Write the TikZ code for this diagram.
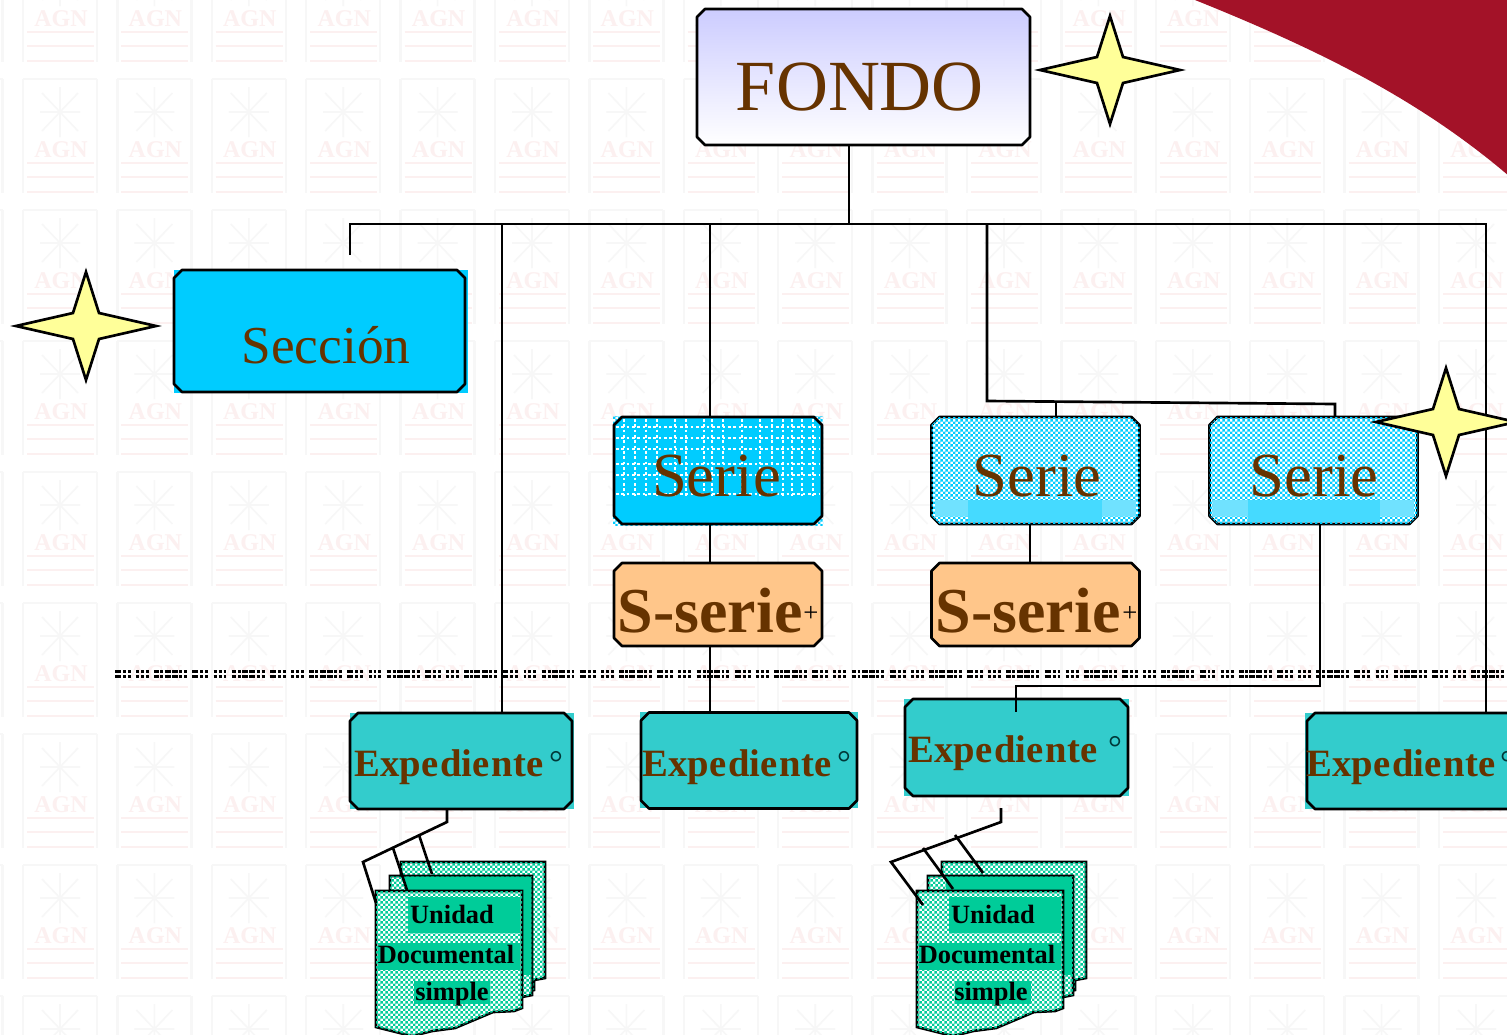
\documentclass[tikz,border=0pt]{standalone}
\usepackage{fontspec}
\setmainfont{Liberation Serif}
\usetikzlibrary{shapes.misc,shapes.geometric,patterns,calc}
\definecolor{txtbrown}{HTML}{663300}
\definecolor{cyanbox}{HTML}{00CCFF}
\definecolor{cyanpale}{HTML}{70E2FF}
\definecolor{cyanmid}{HTML}{45DAFF}
\definecolor{tealbox}{HTML}{33CCCC}
\definecolor{orangebox}{HTML}{FFC68A}
\definecolor{docgreen}{HTML}{00CC99}
\definecolor{starfill}{HTML}{FFFF99}
\definecolor{ribbon}{HTML}{A31228}
\definecolor{wmgray}{HTML}{F7F7F7}
\definecolor{wmpink}{HTML}{FCF0F0}
\definecolor{circdark}{HTML}{003838}
\pgfdeclarepatternformonly{finecheck}{\pgfqpoint{0pt}{0pt}}{\pgfqpoint{4pt}{4pt}}{\pgfqpoint{4pt}{4pt}}{%
  \pgfpathrectangle{\pgfqpoint{0pt}{0pt}}{\pgfqpoint{2pt}{2pt}}%
  \pgfpathrectangle{\pgfqpoint{2pt}{2pt}}{\pgfqpoint{2pt}{2pt}}%
  \pgfusepath{fill}}
\tikzset{
  x=0.75pt,y=-0.75pt,
  boxanchor/.style={rectangle,inner sep=0pt,outer sep=0pt},
  boxline/.style={draw=black,line width=2pt,line join=round},
  fondobox/.style={boxline,top color=blue!20,bottom color=white},
  secbox/.style={boxline,fill=cyanbox},
  seriebox/.style={boxline,fill=white,postaction={pattern=finecheck,pattern color=cyanbox}},
  seriesolid/.style={boxline,fill=cyanbox},
  subbox/.style={boxline,fill=orangebox},
  expbox/.style={boxline,fill=tealbox},
  conn/.style={draw=black,line width=2pt},
  starshape/.style={draw=black,line width=2pt,fill=starfill,line join=miter},
  titletext/.style={text=txtbrown,anchor=base,inner sep=0pt},
  doctext/.style={text=black,anchor=base,inner sep=0pt,font=\fontsize{19.8}{20}\selectfont\bfseries},
  docsheet/.style={draw=black,line width=2pt,fill=white,postaction={pattern=finecheck,pattern color=docgreen}},
  wmline/.style={draw=wmgray,line width=1.8pt},
  wmthin/.style={draw=wmgray,line width=1.2pt},
  wmpinkline/.style={draw=wmpink,line width=1.8pt},
  wmtext/.style={text=wmpink,inner sep=0pt,font=\fontsize{18}{18}\selectfont\bfseries},
  dotrow/.style={draw=black,line width=2pt,dash pattern=on 4.5pt off 1.5pt on 2.2pt off 1.5pt on 2.2pt off 4pt on 2.2pt off 1.5pt on 2.2pt off 1.5pt on 2.2pt off 4pt on 3.5pt off 1pt on 2.2pt off 1pt on 4.5pt off 1pt on 4.5pt off 1pt on 2.2pt off 1.5pt on 2.2pt off 4pt},
  gridline/.style={draw=white,line width=.8pt,dash pattern=on 2pt off 2pt},
}
\newcommand{\chambox}[6]{% name, cx, cy, w, h, style
  \node[boxanchor,minimum width=#4*0.75pt,minimum height=#5*0.75pt] (#1) at (#2,#3) {};
  \draw[#6] ($(#1.north west)+(8,0)$) -- ($(#1.north east)+(-8,0)$) -- ($(#1.north east)+(0,8)$)
    -- ($(#1.south east)+(0,-8)$) -- ($(#1.south east)+(-8,0)$) -- ($(#1.south west)+(8,0)$)
    -- ($(#1.south west)+(0,-8)$) -- ($(#1.north west)+(0,8)$) -- cycle;
}
\newcommand{\fourstar}[2]{% name, center
  \coordinate (#1) at (#2);
  \draw[starshape] ($(#1)+(0,-54)$) -- ($(#1)+(13,-13)$) -- ($(#1)+(70,0)$) -- ($(#1)+(13,13)$) -- ($(#1)+(0,54)$)
    -- ($(#1)+(-13,13)$) -- ($(#1)+(-70,0)$) -- ($(#1)+(-13,-13)$) -- cycle;
}
\newcommand{\docstack}[3]{% name, x offset, left of middle sheet
  \begin{scope}[xshift=#2*0.75pt]
  \draw[docsheet] (401,862) -- (545,862) -- (545,978) -- (534,980) -- (534,990) -- (480,1000) -- (401,1000) -- cycle;
  \draw[docsheet] (#3,876) -- (532,876) -- (532,995) -- (522,997) -- (490,1010) -- (#3,1010) -- cycle;
  \fill[docgreen] (405,877) rectangle (531,890);
  \fill[docgreen] (523,877) rectangle (531,975);
  \draw[docsheet] (376,891) -- (522,891) -- (522,1008) -- (514,1011) -- (493,1012) -- (455,1028) -- (432,1031) -- (412,1036) -- (376,1027) -- cycle;
  \fill[docgreen] (408,897) rectangle (520,933);
  \fill[docgreen] (378,943) rectangle (520,970);
  \fill[docgreen] (414,981) rectangle (490,1004);
  \coordinate (#1a) at (376,903);
  \end{scope}
}
\begin{document}
\begin{tikzpicture}
\useasboundingbox (0,0) rectangle (1507,1035);
\fill[white] (0,0) rectangle (1507,1035);
\clip (0,0) rectangle (1507,1035);
% watermark tiles
\foreach \i in {-1,...,15}{
 \foreach \j in {0,...,8}{
  \begin{scope}[xshift=\i*94.4*0.75pt,yshift=-(\j*131-52)*0.75pt]
   \draw[wmline] (23,0) -- (23,114) (97,0) -- (97,114);
   \draw[wmline] (23,0) -- (97,0);
   \draw[wmthin] (60,8) -- (60,58) (42,14) -- (78,52) (42,52) -- (78,14) (40,33) -- (80,33);
   \node[wmtext] (wm\i w\j) at (61,71) {AGN};
   \draw[wmpinkline] (27,84) -- (94,84) (27,98) -- (94,98) (27,113) -- (94,113);
  \end{scope}
 }
}
% ribbon
\fill[ribbon] (1190,-2) .. controls (1320,50) and (1420,100) .. (1509,176) -- (1509,-2) -- cycle;
% dotted line
\draw[dotrow] (115,671.7) -- (1507,671.7);
\draw[dotrow] (115,676.3) -- (1507,676.3);
% square backings
\fill[cyanbox] (174,270) rectangle (468,393);
\fill[tealbox] (350,713) rectangle (574,809);
\fill[tealbox] (640,712) rectangle (858,808);
\fill[tealbox] (904,699) rectangle (1129,796);
\fill[tealbox] (1305,713) rectangle (1507,809);
\fill[pattern=finecheck,pattern color=cyanbox] (613,416) rectangle (823,525);
% connector points
\coordinate (hl) at (350,224);
\coordinate (hr) at (1486,224);
\coordinate (sec) at (350,255);
\coordinate (hmid) at (849,224);
\coordinate (h1) at (502,224);
\coordinate (h2) at (710,224);
\coordinate (h3) at (987,224);
\coordinate (brk) at (987,401);
\coordinate (brkr) at (1335,404);
\coordinate (b2) at (1056,401.3);
\coordinate (turn1) at (1320,686);
\coordinate (turn2) at (1016,686);
\coordinate (inexp) at (1016,712);
% boxes
\chambox{fondo}{863.5}{77}{333}{136}{fondobox}
\chambox{seccion}{319.5}{331}{291}{122}{secbox}
\chambox{serieA}{718}{470.5}{208}{107}{seriesolid}
\chambox{serieB}{1035.5}{470.5}{208}{107}{seriebox}
\chambox{serieC}{1313.5}{470.5}{208}{107}{seriebox}
% dither detail inside the Serie boxes
\foreach \gy in {427,438,449,464,475,494}{\draw[gridline] (616,\gy) -- (820,\gy);}
\foreach \gx in {624,635,646,657,675,686,704,712,723,742,760,772,783,792,802,813}{\draw[gridline] (\gx,419) -- (\gx,497);}
\fill[cyanpale] (935,500) rectangle (1136,516);
\fill[cyanpale] (1213,500) rectangle (1414,516);
\fill[cyanmid] (968,500) rectangle (1102,522);
\fill[cyanmid] (1248,500) rectangle (1380,522);
\chambox{subA}{718}{604.5}{208}{83}{subbox}
\chambox{subB}{1035.5}{604.5}{208}{83}{subbox}
\chambox{expA}{461}{761}{222}{96}{expbox}
\chambox{expB}{749}{760.5}{216}{96}{expbox}
\chambox{expC}{1016.5}{747.5}{223}{97}{expbox}
\chambox{expD}{1417}{761}{220}{96}{expbox}
% connectors
\draw[conn] (fondo.south -| hmid) -- (hmid);
\draw[conn] (sec) -- (hl) -- (hr) -- (expD.north -| hr);
\draw[conn] (h1) -- (expA.north -| h1);
\draw[conn] (h2) -- (serieA.north -| h2);
\draw[conn] (h3) -- (brk) -- (brkr) -- (serieC.north -| brkr);
\draw[conn] (b2) -- (serieB.north -| b2);
\draw[conn] (serieA.south -| h2) -- (subA.north -| h2);
\draw[conn] (subA.south -| h2) -- (expB.north -| h2);
\coordinate (sb) at (1030,524);
\draw[conn] (serieB.south -| sb) -- (subB.north -| sb);
\draw[conn] (serieC.south -| turn1) -- (turn1) -- (turn2) -- (inexp);
% texts
\node[titletext,font=\fontsize{54}{54}\selectfont] (tF) at (860,110) {FONDO};
\node[titletext,font=\fontsize{40}{40}\selectfont] (tS) at (326,363) {Sección};
\node[titletext,font=\fontsize{47}{47}\selectfont] (tA) at (716.5,496) {Serie};
\node[titletext,font=\fontsize{47}{47}\selectfont] (tB) at (1037,496) {Serie};
\node[titletext,font=\fontsize{47}{47}\selectfont] (tC) at (1314,496) {Serie};
\node[titletext,font=\fontsize{48}{48}\selectfont\bfseries] (sA) at (710,632) {S-serie};
\node[titletext,font=\fontsize{48}{48}\selectfont\bfseries] (sB) at (1028,632) {S-serie};
\node[titletext,text=black,font=\fontsize{20}{20}\selectfont] (pA) at (811,621) {+};
\node[titletext,text=black,font=\fontsize{20}{20}\selectfont] (pB) at (1130,621) {+};
\newcommand{\expword}{Expe\kern1.5pt die\kern1.5pt nte}
\node[titletext,font=\fontsize{29}{29}\selectfont\bfseries] (eA) at (449,776) {\expword};
\node[titletext,font=\fontsize{29}{29}\selectfont\bfseries] (eB) at (737,776) {\expword};
\node[titletext,font=\fontsize{29}{29}\selectfont\bfseries] (eC) at (1003,762) {\expword};
\node[titletext,font=\fontsize{29}{29}\selectfont\bfseries] (eD) at (1401,776) {\expword};
\node[titletext,text=circdark,font=\fontsize{26}{26}\selectfont] (oA) at (556,774) {°};
\node[titletext,text=circdark,font=\fontsize{26}{26}\selectfont] (oB) at (844,774) {°};
\node[titletext,text=circdark,font=\fontsize{26}{26}\selectfont] (oC) at (1115,759) {°};
\node[titletext,text=circdark,font=\fontsize{26}{26}\selectfont] (oD) at (1507,774) {°};
% stars
\fourstar{starA}{1110,70}
\fourstar{starB}{86,326}
\fourstar{starC}{1446,422}
% document stacks
\docstack{dl}{0}{390}
\docstack{dr}{541}{387}
\node[doctext] (ul) at (452,923) {Unidad};
\node[doctext] (dl) at (446,963) {Documental};
\node[doctext] (ml) at (452,1000) {simple};
\node[doctext] (ur) at (993,923) {Unidad};
\node[doctext] (dr) at (987,963) {Documental};
\node[doctext] (mr) at (991,1000) {simple};
% doc connectors
\coordinate (lT) at (447,809);
\coordinate (l1) at (447,822);
\coordinate (l2) at (363,862);
\coordinate (l3) at (393,848);
\coordinate (l3e) at (407,890);
\coordinate (l4) at (419,835);
\coordinate (l4e) at (432,874);
\draw[conn] (expA.south -| lT) -- (l1) -- (l2) -- (dla);
\draw[conn] (l3) -- (l3e);
\draw[conn] (l4) -- (l4e);
\coordinate (rT) at (1001,808);
\coordinate (r1) at (1001,822);
\coordinate (r2) at (891,862);
\coordinate (r2e) at (923,905);
\coordinate (r3) at (923,848);
\coordinate (r3e) at (953,889);
\coordinate (r4) at (955,835);
\coordinate (r4e) at (983,873);
\draw[conn] (rT) -- (r1) -- (r2) -- (r2e);
\draw[conn] (r3) -- (r3e);
\draw[conn] (r4) -- (r4e);
\end{tikzpicture}
\end{document}
